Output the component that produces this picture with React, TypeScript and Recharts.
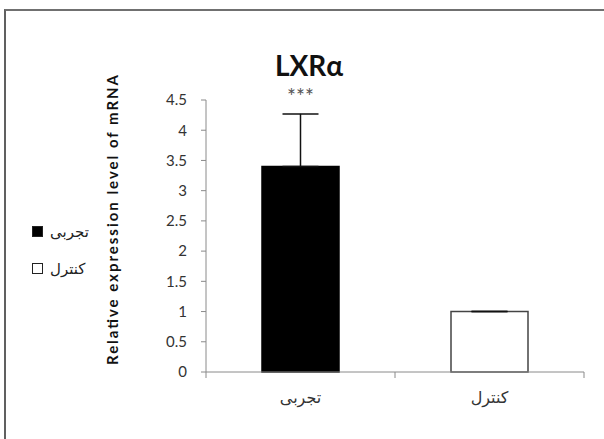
import React from 'react';
import { BarChart, Bar, XAxis, YAxis, Cell, ErrorBar, LabelList } from 'recharts';

// values
const groups = ['تجربی', 'کنترل'];
const expression = [3.4, 1.0];
const errorUp = [0.87, 0];
const significance = ['***', ''];
const barFills = ['#000000', '#ffffff'];
const yTicks = [0, 0.5, 1, 1.5, 2, 2.5, 3, 3.5, 4, 4.5];

const FONT = "Lato, 'DejaVu Sans', sans-serif";
const AXIS = '#8a8a8a';

const data = groups.map((name, i) => ({
  name,
  value: expression[i],
  err: [0, errorUp[i]],
  sig: significance[i],
}));

const StarLabel = (props: any) => {
  const { x, y, width, value } = props;
  if (!value) return null;
  return (
    <text x={x + width / 2} y={y - 62} textAnchor="middle" fontSize={21} fill="#555" fontFamily={FONT}>
      {value}
    </text>
  );
};

// category label plus tick marks on the category edges (Excel style)
const GroupTick = (props: any) => {
  const { x, y, payload, index } = props;
  const half = payload.offset || 0;
  return (
    <g>
      {index === 0 && <line x1={x - half} x2={x - half} y1={y} y2={y + 6} stroke={AXIS} />}
      <line x1={x + half} x2={x + half} y1={y} y2={y + 6} stroke={AXIS} />
      <text x={x} y={y + 31} textAnchor="middle" fontSize={16} fill="#333" fontFamily={FONT}>
        {payload.value}
      </text>
    </g>
  );
};

const YTitle = () => (
  <text
    x={118}
    y={220}
    transform="rotate(-90 118 220)"
    textAnchor="middle"
    fontSize={15}
    fontWeight="bold"
    fill="#111"
    fontFamily={FONT}
    textLength={290}
    lengthAdjust="spacing"
  >
    Relative expression level of mRNA
  </text>
);

export default function App() {
  return (
    <div style={{ position: 'fixed', left: 0, top: 0, width: 604, height: 439, background: '#fff', overflow: 'hidden' }}>
      {/* frame, only top and left edges visible */}
      <div style={{ position: 'absolute', left: 4, top: 9, right: -4, bottom: -4, borderTop: '2px solid #707070', borderLeft: '2px solid #606060' }} />

      <div style={{ position: 'absolute', left: 0, width: 618, top: 48, textAlign: 'center', fontFamily: FONT, fontWeight: 'bold', fontSize: 28, color: '#111' }}>
        LXRα
      </div>

      {/* legend */}
      <div style={{ position: 'absolute', left: 32, top: 221, fontFamily: FONT, fontSize: 15, color: '#222' }}>
        {groups.map((g, i) => (
          <div key={g} style={{ display: 'flex', alignItems: 'center', height: 20, marginBottom: 17 }}>
            <span style={{ width: 9, height: 9, border: '1.5px solid #222', background: barFills[i], marginRight: 7 }} />
            <span>{g}</span>
          </div>
        ))}
      </div>

      <div style={{ position: 'absolute', left: 0, top: 0 }}>
        <BarChart width={604} height={439} data={data} margin={{ top: 100, right: 20, bottom: 27, left: 146 }}>
          <XAxis
            dataKey="name"
            stroke={AXIS}
            tickLine={false}
            tickSize={0}
            tickMargin={0}
            height={40}
            interval={0}
            tick={<GroupTick />}
          />
          <YAxis
            width={60}
            domain={[0, 4.5]}
            ticks={yTicks}
            interval={0}
            stroke={AXIS}
            tickSize={5}
            tickMargin={14}
            tick={{ fill: '#333', fontSize: 15, fontFamily: FONT }}
            label={{ content: () => <YTitle /> }}
          />
          <Bar dataKey="value" barSize={77} stroke="#444" strokeWidth={1.5} isAnimationActive={false}>
            {data.map((d, i) => (
              <Cell key={d.name} fill={barFills[i]} stroke={i === 0 ? '#000' : '#444'} />
            ))}
            <ErrorBar dataKey="err" width={18} stroke="#111" strokeWidth={1.5} direction="y" />
            <LabelList dataKey="sig" content={<StarLabel />} />
          </Bar>
        </BarChart>
      </div>
    </div>
  );
}
